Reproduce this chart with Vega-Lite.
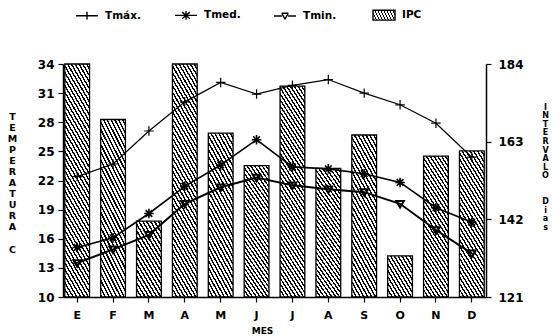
{
  "$schema": "https://vega.github.io/schema/vega-lite/v6.json",
  "width": 423,
  "height": 233,
  "autosize": {"type": "none"},
  "padding": {"left": 63, "top": 64, "right": 67, "bottom": 39},
  "background": "white",
  "config": {
    "view": {"stroke": null},
    "font": "DejaVu Sans",
    "axis": {
      "grid": false,
      "domainColor": "black",
      "tickColor": "black",
      "labelColor": "black",
      "titleColor": "black",
      "labelFont": "DejaVu Sans",
      "titleFont": "DejaVu Sans",
      "labelFontWeight": "bold",
      "titleFontWeight": "bold",
      "domainWidth": 1.5,
      "tickWidth": 1.2,
      "tickSize": 5
    }
  },
  "data": {
    "values": [
      {"mes": "Ene", "tmax": 22.4, "tmed": 15.1, "tmin": 13.5, "ipc": 184},
      {"mes": "Feb", "tmax": 23.7, "tmed": 16.1, "tmin": 14.9, "ipc": 169},
      {"mes": "Mar", "tmax": 27.1, "tmed": 18.6, "tmin": 16.4, "ipc": 141.5},
      {"mes": "Abr", "tmax": 30.1, "tmed": 21.4, "tmin": 19.6, "ipc": 184},
      {"mes": "May", "tmax": 32.1, "tmed": 23.6, "tmin": 21.3, "ipc": 165.3},
      {"mes": "Jun", "tmax": 30.9, "tmed": 26.2, "tmin": 22.3, "ipc": 156.5},
      {"mes": "Jul", "tmax": 31.8, "tmed": 23.4, "tmin": 21.5, "ipc": 178},
      {"mes": "Ago", "tmax": 32.4, "tmed": 23.2, "tmin": 21.1, "ipc": 155.8},
      {"mes": "Sep", "tmax": 31.0, "tmed": 22.7, "tmin": 20.8, "ipc": 164.8},
      {"mes": "Oct", "tmax": 29.8, "tmed": 21.8, "tmin": 19.6, "ipc": 132.1},
      {"mes": "Nov", "tmax": 27.9, "tmed": 19.2, "tmin": 16.9, "ipc": 159.1},
      {"mes": "Dic", "tmax": 24.4, "tmed": 17.7, "tmin": 14.5, "ipc": 160.5}
    ]
  },
  "encoding": {
    "x": {
      "field": "mes",
      "type": "ordinal",
      "sort": ["Ene", "Feb", "Mar", "Abr", "May", "Jun", "Jul", "Ago", "Sep", "Oct", "Nov", "Dic"],
      "scale": {"paddingInner": 0.31, "paddingOuter": 0.05},
      "axis": {
        "title": "MES",
        "labelAngle": 0,
        "labelExpr": "slice(datum.label, 0, 1)",
        "labelFontSize": 11,
        "labelPadding": 7,
        "titleFontSize": 9,
        "titleX": 199,
        "titleY": 33,
        "titleAlign": "center",
        "titleBaseline": "middle"
      }
    }
  },
  "layer": [
    {
      "mark": {"type": "bar", "stroke": "black", "strokeWidth": 1.3},
      "encoding": {
        "y": {
          "field": "ipc",
          "type": "quantitative",
          "scale": {"domain": [121, 184], "nice": false, "zero": false},
          "axis": {
            "orient": "right",
            "values": [121, 142, 163, 184],
            "labelFontSize": 12,
            "labelPadding": 7,
            "title": ["I", "N", "T", "E", "R", "V", "A", "L", "O", "\u2800", "\u2800", "D", "i", "a", "s"],
            "titleAngle": 0,
            "titleFontSize": 8,
            "titleLineHeight": 8.6,
            "titleX": 59,
            "titleY": 39,
            "titleAlign": "center",
            "titleBaseline": "top"
          }
        },
        "y2": {"datum": 121},
        "fill": {
          "condition": [
            {
              "test": "datum.ipc < 137",
              "value": {
                "gradient": "linear", "x1": 1, "y1": 0, "x2": 0, "y2": 1,
                "stops": [
                  {"offset": 0, "color": "#fff"}, {"offset": 0.0446, "color": "#fff"}, {"offset": 0.0446, "color": "#000"}, {"offset": 0.0769, "color": "#000"},
                  {"offset": 0.0769, "color": "#fff"}, {"offset": 0.1215, "color": "#fff"}, {"offset": 0.1215, "color": "#000"}, {"offset": 0.1538, "color": "#000"},
                  {"offset": 0.1538, "color": "#fff"}, {"offset": 0.1984, "color": "#fff"}, {"offset": 0.1984, "color": "#000"}, {"offset": 0.2308, "color": "#000"},
                  {"offset": 0.2308, "color": "#fff"}, {"offset": 0.2754, "color": "#fff"}, {"offset": 0.2754, "color": "#000"}, {"offset": 0.3077, "color": "#000"},
                  {"offset": 0.3077, "color": "#fff"}, {"offset": 0.3523, "color": "#fff"}, {"offset": 0.3523, "color": "#000"}, {"offset": 0.3846, "color": "#000"},
                  {"offset": 0.3846, "color": "#fff"}, {"offset": 0.4292, "color": "#fff"}, {"offset": 0.4292, "color": "#000"}, {"offset": 0.4615, "color": "#000"},
                  {"offset": 0.4615, "color": "#fff"}, {"offset": 0.5061, "color": "#fff"}, {"offset": 0.5061, "color": "#000"}, {"offset": 0.5385, "color": "#000"},
                  {"offset": 0.5385, "color": "#fff"}, {"offset": 0.5831, "color": "#fff"}, {"offset": 0.5831, "color": "#000"}, {"offset": 0.6154, "color": "#000"},
                  {"offset": 0.6154, "color": "#fff"}, {"offset": 0.66, "color": "#fff"}, {"offset": 0.66, "color": "#000"}, {"offset": 0.6923, "color": "#000"},
                  {"offset": 0.6923, "color": "#fff"}, {"offset": 0.7369, "color": "#fff"}, {"offset": 0.7369, "color": "#000"}, {"offset": 0.7692, "color": "#000"},
                  {"offset": 0.7692, "color": "#fff"}, {"offset": 0.8138, "color": "#fff"}, {"offset": 0.8138, "color": "#000"}, {"offset": 0.8462, "color": "#000"},
                  {"offset": 0.8462, "color": "#fff"}, {"offset": 0.8908, "color": "#fff"}, {"offset": 0.8908, "color": "#000"}, {"offset": 0.9231, "color": "#000"},
                  {"offset": 0.9231, "color": "#fff"}, {"offset": 0.9677, "color": "#fff"}, {"offset": 0.9677, "color": "#000"}, {"offset": 1, "color": "#000"}
                ]
              }
            },
            {
              "test": "datum.ipc < 150",
              "value": {
                "gradient": "linear", "x1": 1, "y1": 0, "x2": 0.3525, "y2": 1.1914,
                "stops": [
                  {"offset": 0, "color": "#fff"}, {"offset": 0.0322, "color": "#fff"}, {"offset": 0.0322, "color": "#000"}, {"offset": 0.0556, "color": "#000"},
                  {"offset": 0.0556, "color": "#fff"}, {"offset": 0.0878, "color": "#fff"}, {"offset": 0.0878, "color": "#000"}, {"offset": 0.1111, "color": "#000"},
                  {"offset": 0.1111, "color": "#fff"}, {"offset": 0.1433, "color": "#fff"}, {"offset": 0.1433, "color": "#000"}, {"offset": 0.1667, "color": "#000"},
                  {"offset": 0.1667, "color": "#fff"}, {"offset": 0.1989, "color": "#fff"}, {"offset": 0.1989, "color": "#000"}, {"offset": 0.2222, "color": "#000"},
                  {"offset": 0.2222, "color": "#fff"}, {"offset": 0.2544, "color": "#fff"}, {"offset": 0.2544, "color": "#000"}, {"offset": 0.2778, "color": "#000"},
                  {"offset": 0.2778, "color": "#fff"}, {"offset": 0.31, "color": "#fff"}, {"offset": 0.31, "color": "#000"}, {"offset": 0.3333, "color": "#000"},
                  {"offset": 0.3333, "color": "#fff"}, {"offset": 0.3656, "color": "#fff"}, {"offset": 0.3656, "color": "#000"}, {"offset": 0.3889, "color": "#000"},
                  {"offset": 0.3889, "color": "#fff"}, {"offset": 0.4211, "color": "#fff"}, {"offset": 0.4211, "color": "#000"}, {"offset": 0.4444, "color": "#000"},
                  {"offset": 0.4444, "color": "#fff"}, {"offset": 0.4767, "color": "#fff"}, {"offset": 0.4767, "color": "#000"}, {"offset": 0.5, "color": "#000"},
                  {"offset": 0.5, "color": "#fff"}, {"offset": 0.5322, "color": "#fff"}, {"offset": 0.5322, "color": "#000"}, {"offset": 0.5556, "color": "#000"},
                  {"offset": 0.5556, "color": "#fff"}, {"offset": 0.5878, "color": "#fff"}, {"offset": 0.5878, "color": "#000"}, {"offset": 0.6111, "color": "#000"},
                  {"offset": 0.6111, "color": "#fff"}, {"offset": 0.6433, "color": "#fff"}, {"offset": 0.6433, "color": "#000"}, {"offset": 0.6667, "color": "#000"},
                  {"offset": 0.6667, "color": "#fff"}, {"offset": 0.6989, "color": "#fff"}, {"offset": 0.6989, "color": "#000"}, {"offset": 0.7222, "color": "#000"},
                  {"offset": 0.7222, "color": "#fff"}, {"offset": 0.7544, "color": "#fff"}, {"offset": 0.7544, "color": "#000"}, {"offset": 0.7778, "color": "#000"},
                  {"offset": 0.7778, "color": "#fff"}, {"offset": 0.81, "color": "#fff"}, {"offset": 0.81, "color": "#000"}, {"offset": 0.8333, "color": "#000"},
                  {"offset": 0.8333, "color": "#fff"}, {"offset": 0.8656, "color": "#fff"}, {"offset": 0.8656, "color": "#000"}, {"offset": 0.8889, "color": "#000"},
                  {"offset": 0.8889, "color": "#fff"}, {"offset": 0.9211, "color": "#fff"}, {"offset": 0.9211, "color": "#000"}, {"offset": 0.9444, "color": "#000"},
                  {"offset": 0.9444, "color": "#fff"}, {"offset": 0.9767, "color": "#fff"}, {"offset": 0.9767, "color": "#000"}, {"offset": 1, "color": "#000"}
                ]
              }
            },
            {
              "test": "datum.ipc < 172",
              "value": {
                "gradient": "linear", "x1": 1, "y1": 0, "x2": 0.6734, "y2": 1.1855,
                "stops": [
                  {"offset": 0, "color": "#fff"}, {"offset": 0.0193, "color": "#fff"}, {"offset": 0.0193, "color": "#000"}, {"offset": 0.0333, "color": "#000"},
                  {"offset": 0.0333, "color": "#fff"}, {"offset": 0.0527, "color": "#fff"}, {"offset": 0.0527, "color": "#000"}, {"offset": 0.0667, "color": "#000"},
                  {"offset": 0.0667, "color": "#fff"}, {"offset": 0.086, "color": "#fff"}, {"offset": 0.086, "color": "#000"}, {"offset": 0.1, "color": "#000"},
                  {"offset": 0.1, "color": "#fff"}, {"offset": 0.1193, "color": "#fff"}, {"offset": 0.1193, "color": "#000"}, {"offset": 0.1333, "color": "#000"},
                  {"offset": 0.1333, "color": "#fff"}, {"offset": 0.1527, "color": "#fff"}, {"offset": 0.1527, "color": "#000"}, {"offset": 0.1667, "color": "#000"},
                  {"offset": 0.1667, "color": "#fff"}, {"offset": 0.186, "color": "#fff"}, {"offset": 0.186, "color": "#000"}, {"offset": 0.2, "color": "#000"},
                  {"offset": 0.2, "color": "#fff"}, {"offset": 0.2193, "color": "#fff"}, {"offset": 0.2193, "color": "#000"}, {"offset": 0.2333, "color": "#000"},
                  {"offset": 0.2333, "color": "#fff"}, {"offset": 0.2527, "color": "#fff"}, {"offset": 0.2527, "color": "#000"}, {"offset": 0.2667, "color": "#000"},
                  {"offset": 0.2667, "color": "#fff"}, {"offset": 0.286, "color": "#fff"}, {"offset": 0.286, "color": "#000"}, {"offset": 0.3, "color": "#000"},
                  {"offset": 0.3, "color": "#fff"}, {"offset": 0.3193, "color": "#fff"}, {"offset": 0.3193, "color": "#000"}, {"offset": 0.3333, "color": "#000"},
                  {"offset": 0.3333, "color": "#fff"}, {"offset": 0.3527, "color": "#fff"}, {"offset": 0.3527, "color": "#000"}, {"offset": 0.3667, "color": "#000"},
                  {"offset": 0.3667, "color": "#fff"}, {"offset": 0.386, "color": "#fff"}, {"offset": 0.386, "color": "#000"}, {"offset": 0.4, "color": "#000"},
                  {"offset": 0.4, "color": "#fff"}, {"offset": 0.4193, "color": "#fff"}, {"offset": 0.4193, "color": "#000"}, {"offset": 0.4333, "color": "#000"},
                  {"offset": 0.4333, "color": "#fff"}, {"offset": 0.4527, "color": "#fff"}, {"offset": 0.4527, "color": "#000"}, {"offset": 0.4667, "color": "#000"},
                  {"offset": 0.4667, "color": "#fff"}, {"offset": 0.486, "color": "#fff"}, {"offset": 0.486, "color": "#000"}, {"offset": 0.5, "color": "#000"},
                  {"offset": 0.5, "color": "#fff"}, {"offset": 0.5193, "color": "#fff"}, {"offset": 0.5193, "color": "#000"}, {"offset": 0.5333, "color": "#000"},
                  {"offset": 0.5333, "color": "#fff"}, {"offset": 0.5527, "color": "#fff"}, {"offset": 0.5527, "color": "#000"}, {"offset": 0.5667, "color": "#000"},
                  {"offset": 0.5667, "color": "#fff"}, {"offset": 0.586, "color": "#fff"}, {"offset": 0.586, "color": "#000"}, {"offset": 0.6, "color": "#000"},
                  {"offset": 0.6, "color": "#fff"}, {"offset": 0.6193, "color": "#fff"}, {"offset": 0.6193, "color": "#000"}, {"offset": 0.6333, "color": "#000"},
                  {"offset": 0.6333, "color": "#fff"}, {"offset": 0.6527, "color": "#fff"}, {"offset": 0.6527, "color": "#000"}, {"offset": 0.6667, "color": "#000"},
                  {"offset": 0.6667, "color": "#fff"}, {"offset": 0.686, "color": "#fff"}, {"offset": 0.686, "color": "#000"}, {"offset": 0.7, "color": "#000"},
                  {"offset": 0.7, "color": "#fff"}, {"offset": 0.7193, "color": "#fff"}, {"offset": 0.7193, "color": "#000"}, {"offset": 0.7333, "color": "#000"},
                  {"offset": 0.7333, "color": "#fff"}, {"offset": 0.7527, "color": "#fff"}, {"offset": 0.7527, "color": "#000"}, {"offset": 0.7667, "color": "#000"},
                  {"offset": 0.7667, "color": "#fff"}, {"offset": 0.786, "color": "#fff"}, {"offset": 0.786, "color": "#000"}, {"offset": 0.8, "color": "#000"},
                  {"offset": 0.8, "color": "#fff"}, {"offset": 0.8193, "color": "#fff"}, {"offset": 0.8193, "color": "#000"}, {"offset": 0.8333, "color": "#000"},
                  {"offset": 0.8333, "color": "#fff"}, {"offset": 0.8527, "color": "#fff"}, {"offset": 0.8527, "color": "#000"}, {"offset": 0.8667, "color": "#000"},
                  {"offset": 0.8667, "color": "#fff"}, {"offset": 0.886, "color": "#fff"}, {"offset": 0.886, "color": "#000"}, {"offset": 0.9, "color": "#000"},
                  {"offset": 0.9, "color": "#fff"}, {"offset": 0.9193, "color": "#fff"}, {"offset": 0.9193, "color": "#000"}, {"offset": 0.9333, "color": "#000"},
                  {"offset": 0.9333, "color": "#fff"}, {"offset": 0.9527, "color": "#fff"}, {"offset": 0.9527, "color": "#000"}, {"offset": 0.9667, "color": "#000"},
                  {"offset": 0.9667, "color": "#fff"}, {"offset": 0.986, "color": "#fff"}, {"offset": 0.986, "color": "#000"}, {"offset": 1, "color": "#000"}
                ]
              }
            }
          ],
          "value": {
            "gradient": "linear", "x1": 1, "y1": 0, "x2": 0.7899, "y2": 1.1451,
            "stops": [
              {"offset": 0, "color": "#fff"}, {"offset": 0.0138, "color": "#fff"}, {"offset": 0.0138, "color": "#000"}, {"offset": 0.0238, "color": "#000"},
              {"offset": 0.0238, "color": "#fff"}, {"offset": 0.0376, "color": "#fff"}, {"offset": 0.0376, "color": "#000"}, {"offset": 0.0476, "color": "#000"},
              {"offset": 0.0476, "color": "#fff"}, {"offset": 0.0614, "color": "#fff"}, {"offset": 0.0614, "color": "#000"}, {"offset": 0.0714, "color": "#000"},
              {"offset": 0.0714, "color": "#fff"}, {"offset": 0.0852, "color": "#fff"}, {"offset": 0.0852, "color": "#000"}, {"offset": 0.0952, "color": "#000"},
              {"offset": 0.0952, "color": "#fff"}, {"offset": 0.109, "color": "#fff"}, {"offset": 0.109, "color": "#000"}, {"offset": 0.119, "color": "#000"},
              {"offset": 0.119, "color": "#fff"}, {"offset": 0.1328, "color": "#fff"}, {"offset": 0.1328, "color": "#000"}, {"offset": 0.1429, "color": "#000"},
              {"offset": 0.1429, "color": "#fff"}, {"offset": 0.1567, "color": "#fff"}, {"offset": 0.1567, "color": "#000"}, {"offset": 0.1667, "color": "#000"},
              {"offset": 0.1667, "color": "#fff"}, {"offset": 0.1805, "color": "#fff"}, {"offset": 0.1805, "color": "#000"}, {"offset": 0.1905, "color": "#000"},
              {"offset": 0.1905, "color": "#fff"}, {"offset": 0.2043, "color": "#fff"}, {"offset": 0.2043, "color": "#000"}, {"offset": 0.2143, "color": "#000"},
              {"offset": 0.2143, "color": "#fff"}, {"offset": 0.2281, "color": "#fff"}, {"offset": 0.2281, "color": "#000"}, {"offset": 0.2381, "color": "#000"},
              {"offset": 0.2381, "color": "#fff"}, {"offset": 0.2519, "color": "#fff"}, {"offset": 0.2519, "color": "#000"}, {"offset": 0.2619, "color": "#000"},
              {"offset": 0.2619, "color": "#fff"}, {"offset": 0.2757, "color": "#fff"}, {"offset": 0.2757, "color": "#000"}, {"offset": 0.2857, "color": "#000"},
              {"offset": 0.2857, "color": "#fff"}, {"offset": 0.2995, "color": "#fff"}, {"offset": 0.2995, "color": "#000"}, {"offset": 0.3095, "color": "#000"},
              {"offset": 0.3095, "color": "#fff"}, {"offset": 0.3233, "color": "#fff"}, {"offset": 0.3233, "color": "#000"}, {"offset": 0.3333, "color": "#000"},
              {"offset": 0.3333, "color": "#fff"}, {"offset": 0.3471, "color": "#fff"}, {"offset": 0.3471, "color": "#000"}, {"offset": 0.3571, "color": "#000"},
              {"offset": 0.3571, "color": "#fff"}, {"offset": 0.3709, "color": "#fff"}, {"offset": 0.3709, "color": "#000"}, {"offset": 0.381, "color": "#000"},
              {"offset": 0.381, "color": "#fff"}, {"offset": 0.3948, "color": "#fff"}, {"offset": 0.3948, "color": "#000"}, {"offset": 0.4048, "color": "#000"},
              {"offset": 0.4048, "color": "#fff"}, {"offset": 0.4186, "color": "#fff"}, {"offset": 0.4186, "color": "#000"}, {"offset": 0.4286, "color": "#000"},
              {"offset": 0.4286, "color": "#fff"}, {"offset": 0.4424, "color": "#fff"}, {"offset": 0.4424, "color": "#000"}, {"offset": 0.4524, "color": "#000"},
              {"offset": 0.4524, "color": "#fff"}, {"offset": 0.4662, "color": "#fff"}, {"offset": 0.4662, "color": "#000"}, {"offset": 0.4762, "color": "#000"},
              {"offset": 0.4762, "color": "#fff"}, {"offset": 0.49, "color": "#fff"}, {"offset": 0.49, "color": "#000"}, {"offset": 0.5, "color": "#000"},
              {"offset": 0.5, "color": "#fff"}, {"offset": 0.5138, "color": "#fff"}, {"offset": 0.5138, "color": "#000"}, {"offset": 0.5238, "color": "#000"},
              {"offset": 0.5238, "color": "#fff"}, {"offset": 0.5376, "color": "#fff"}, {"offset": 0.5376, "color": "#000"}, {"offset": 0.5476, "color": "#000"},
              {"offset": 0.5476, "color": "#fff"}, {"offset": 0.5614, "color": "#fff"}, {"offset": 0.5614, "color": "#000"}, {"offset": 0.5714, "color": "#000"},
              {"offset": 0.5714, "color": "#fff"}, {"offset": 0.5852, "color": "#fff"}, {"offset": 0.5852, "color": "#000"}, {"offset": 0.5952, "color": "#000"},
              {"offset": 0.5952, "color": "#fff"}, {"offset": 0.609, "color": "#fff"}, {"offset": 0.609, "color": "#000"}, {"offset": 0.619, "color": "#000"},
              {"offset": 0.619, "color": "#fff"}, {"offset": 0.6328, "color": "#fff"}, {"offset": 0.6328, "color": "#000"}, {"offset": 0.6429, "color": "#000"},
              {"offset": 0.6429, "color": "#fff"}, {"offset": 0.6567, "color": "#fff"}, {"offset": 0.6567, "color": "#000"}, {"offset": 0.6667, "color": "#000"},
              {"offset": 0.6667, "color": "#fff"}, {"offset": 0.6805, "color": "#fff"}, {"offset": 0.6805, "color": "#000"}, {"offset": 0.6905, "color": "#000"},
              {"offset": 0.6905, "color": "#fff"}, {"offset": 0.7043, "color": "#fff"}, {"offset": 0.7043, "color": "#000"}, {"offset": 0.7143, "color": "#000"},
              {"offset": 0.7143, "color": "#fff"}, {"offset": 0.7281, "color": "#fff"}, {"offset": 0.7281, "color": "#000"}, {"offset": 0.7381, "color": "#000"},
              {"offset": 0.7381, "color": "#fff"}, {"offset": 0.7519, "color": "#fff"}, {"offset": 0.7519, "color": "#000"}, {"offset": 0.7619, "color": "#000"},
              {"offset": 0.7619, "color": "#fff"}, {"offset": 0.7757, "color": "#fff"}, {"offset": 0.7757, "color": "#000"}, {"offset": 0.7857, "color": "#000"},
              {"offset": 0.7857, "color": "#fff"}, {"offset": 0.7995, "color": "#fff"}, {"offset": 0.7995, "color": "#000"}, {"offset": 0.8095, "color": "#000"},
              {"offset": 0.8095, "color": "#fff"}, {"offset": 0.8233, "color": "#fff"}, {"offset": 0.8233, "color": "#000"}, {"offset": 0.8333, "color": "#000"},
              {"offset": 0.8333, "color": "#fff"}, {"offset": 0.8471, "color": "#fff"}, {"offset": 0.8471, "color": "#000"}, {"offset": 0.8571, "color": "#000"},
              {"offset": 0.8571, "color": "#fff"}, {"offset": 0.8709, "color": "#fff"}, {"offset": 0.8709, "color": "#000"}, {"offset": 0.881, "color": "#000"},
              {"offset": 0.881, "color": "#fff"}, {"offset": 0.8948, "color": "#fff"}, {"offset": 0.8948, "color": "#000"}, {"offset": 0.9048, "color": "#000"},
              {"offset": 0.9048, "color": "#fff"}, {"offset": 0.9186, "color": "#fff"}, {"offset": 0.9186, "color": "#000"}, {"offset": 0.9286, "color": "#000"},
              {"offset": 0.9286, "color": "#fff"}, {"offset": 0.9424, "color": "#fff"}, {"offset": 0.9424, "color": "#000"}, {"offset": 0.9524, "color": "#000"},
              {"offset": 0.9524, "color": "#fff"}, {"offset": 0.9662, "color": "#fff"}, {"offset": 0.9662, "color": "#000"}, {"offset": 0.9762, "color": "#000"},
              {"offset": 0.9762, "color": "#fff"}, {"offset": 0.99, "color": "#fff"}, {"offset": 0.99, "color": "#000"}, {"offset": 1, "color": "#000"}
            ]
          }
        }
      }
    },
    {
      "transform": [{"fold": ["tmax", "tmed", "tmin"], "as": ["serie", "valor"]}],
      "encoding": {
        "y": {
          "field": "valor",
          "type": "quantitative",
          "scale": {"domain": [10, 34], "nice": false, "zero": false},
          "axis": {
            "orient": "left",
            "values": [10, 13, 16, 19, 22, 25, 28, 31, 34],
            "labelFontSize": 12,
            "labelPadding": 4,
            "title": ["T", "E", "M", "P", "E", "R", "A", "T", "U", "R", "A", "\u2800", "C"],
            "titleAngle": 0,
            "titleFontSize": 9.5,
            "titleLineHeight": 11.1,
            "titleX": -51,
            "titleY": 47,
            "titleAlign": "center",
            "titleBaseline": "top"
          }
        }
      },
      "layer": [
        {
          "mark": {"type": "line", "color": "black"},
          "encoding": {
            "detail": {"field": "serie", "type": "nominal"},
            "strokeWidth": {"field": "serie", "type": "nominal", "scale": {"domain": ["tmax", "tmed", "tmin"], "range": [1.2, 2, 1.2]}, "legend": null}
          }
        },
        {
          "mark": {"type": "point", "filled": false, "color": "black", "opacity": 1},
          "encoding": {
            "shape": {
              "field": "serie",
              "type": "nominal",
              "scale": {
                "domain": ["tmax", "tmed", "tmin"],
                "range": ["M-1,0H1M0,-1V1", "M-1,0H1M0,-1V1M-0.7,-0.7L0.7,0.7M-0.7,0.7L0.7,-0.7", "M-0.8,-0.6H0.8L0,0.8Z"]
              },
              "legend": null
            },
            "strokeWidth": {"field": "serie", "type": "nominal", "scale": {"domain": ["tmax", "tmed", "tmin"], "range": [1.2, 2, 1.2]}, "legend": null},
            "size": {"value": 90}
          }
        },
        {
          "mark": {
            "type": "point",
            "filled": true,
            "stroke": "black",
            "strokeWidth": 1.4,
            "opacity": 0,
            "fill": {
              "gradient": "linear",
              "x1": 1, "y1": 0, "x2": -0.166, "y2": 0.262,
              "stops": [
                {"offset": 0, "color": "#fff"}, {"offset": 0.0667, "color": "#fff"}, {"offset": 0.0667, "color": "#000"}, {"offset": 0.1111, "color": "#000"},
                {"offset": 0.1111, "color": "#fff"}, {"offset": 0.1778, "color": "#fff"}, {"offset": 0.1778, "color": "#000"}, {"offset": 0.2222, "color": "#000"},
                {"offset": 0.2222, "color": "#fff"}, {"offset": 0.2889, "color": "#fff"}, {"offset": 0.2889, "color": "#000"}, {"offset": 0.3333, "color": "#000"},
                {"offset": 0.3333, "color": "#fff"}, {"offset": 0.4, "color": "#fff"}, {"offset": 0.4, "color": "#000"}, {"offset": 0.4444, "color": "#000"},
                {"offset": 0.4444, "color": "#fff"}, {"offset": 0.5111, "color": "#fff"}, {"offset": 0.5111, "color": "#000"}, {"offset": 0.5556, "color": "#000"},
                {"offset": 0.5556, "color": "#fff"}, {"offset": 0.6222, "color": "#fff"}, {"offset": 0.6222, "color": "#000"}, {"offset": 0.6667, "color": "#000"},
                {"offset": 0.6667, "color": "#fff"}, {"offset": 0.7333, "color": "#fff"}, {"offset": 0.7333, "color": "#000"}, {"offset": 0.7778, "color": "#000"},
                {"offset": 0.7778, "color": "#fff"}, {"offset": 0.8444, "color": "#fff"}, {"offset": 0.8444, "color": "#000"}, {"offset": 0.8889, "color": "#000"},
                {"offset": 0.8889, "color": "#fff"}, {"offset": 0.9556, "color": "#fff"}, {"offset": 0.9556, "color": "#000"}, {"offset": 1, "color": "#000"}
              ]
            }
          },
          "encoding": {
            "shape": {
              "field": "serie",
              "type": "nominal",
              "scale": {
                "domain": ["tmax", "tmed", "tmin", "ipc"],
                "range": [
                  "M-1,0H1M0,-0.35V0.35",
                  "M-1,0H1M0,-0.4V0.4M-0.35,-0.3L0.35,0.3M-0.35,0.3L0.35,-0.3",
                  "M-1,0H-0.28M0.28,0H1M-0.3,-0.25H0.3M0.3,-0.25L0,0.3M0,0.3L-0.3,-0.25",
                  "M-1,-0.45H1V0.45H-1Z"
                ]
              },
              "legend": {
                "orient": "none",
                "legendX": 12,
                "legendY": -61,
                "direction": "horizontal",
                "title": null,
                "padding": 0,
                "symbolSize": 484,
                "symbolStrokeWidth": 1.4,
                "symbolOpacity": 1,
                "gridAlign": "all",
                "columnPadding": 30,
                "labelFont": "DejaVu Sans",
                "labelFontSize": 10.5,
                "labelFontWeight": "bold",
                "labelColor": "black",
                "labelOffset": 6,
                "labelExpr": "datum.value == 'tmax' ? 'Tmáx.' : datum.value == 'tmed' ? 'Tmed.' : datum.value == 'tmin' ? 'Tmin.' : 'IPC'"
              }
            }
          }
        }
      ],
      "resolve": {"scale": {"shape": "independent"}}
    }
  ],
  "resolve": {"scale": {"y": "independent"}}
}
